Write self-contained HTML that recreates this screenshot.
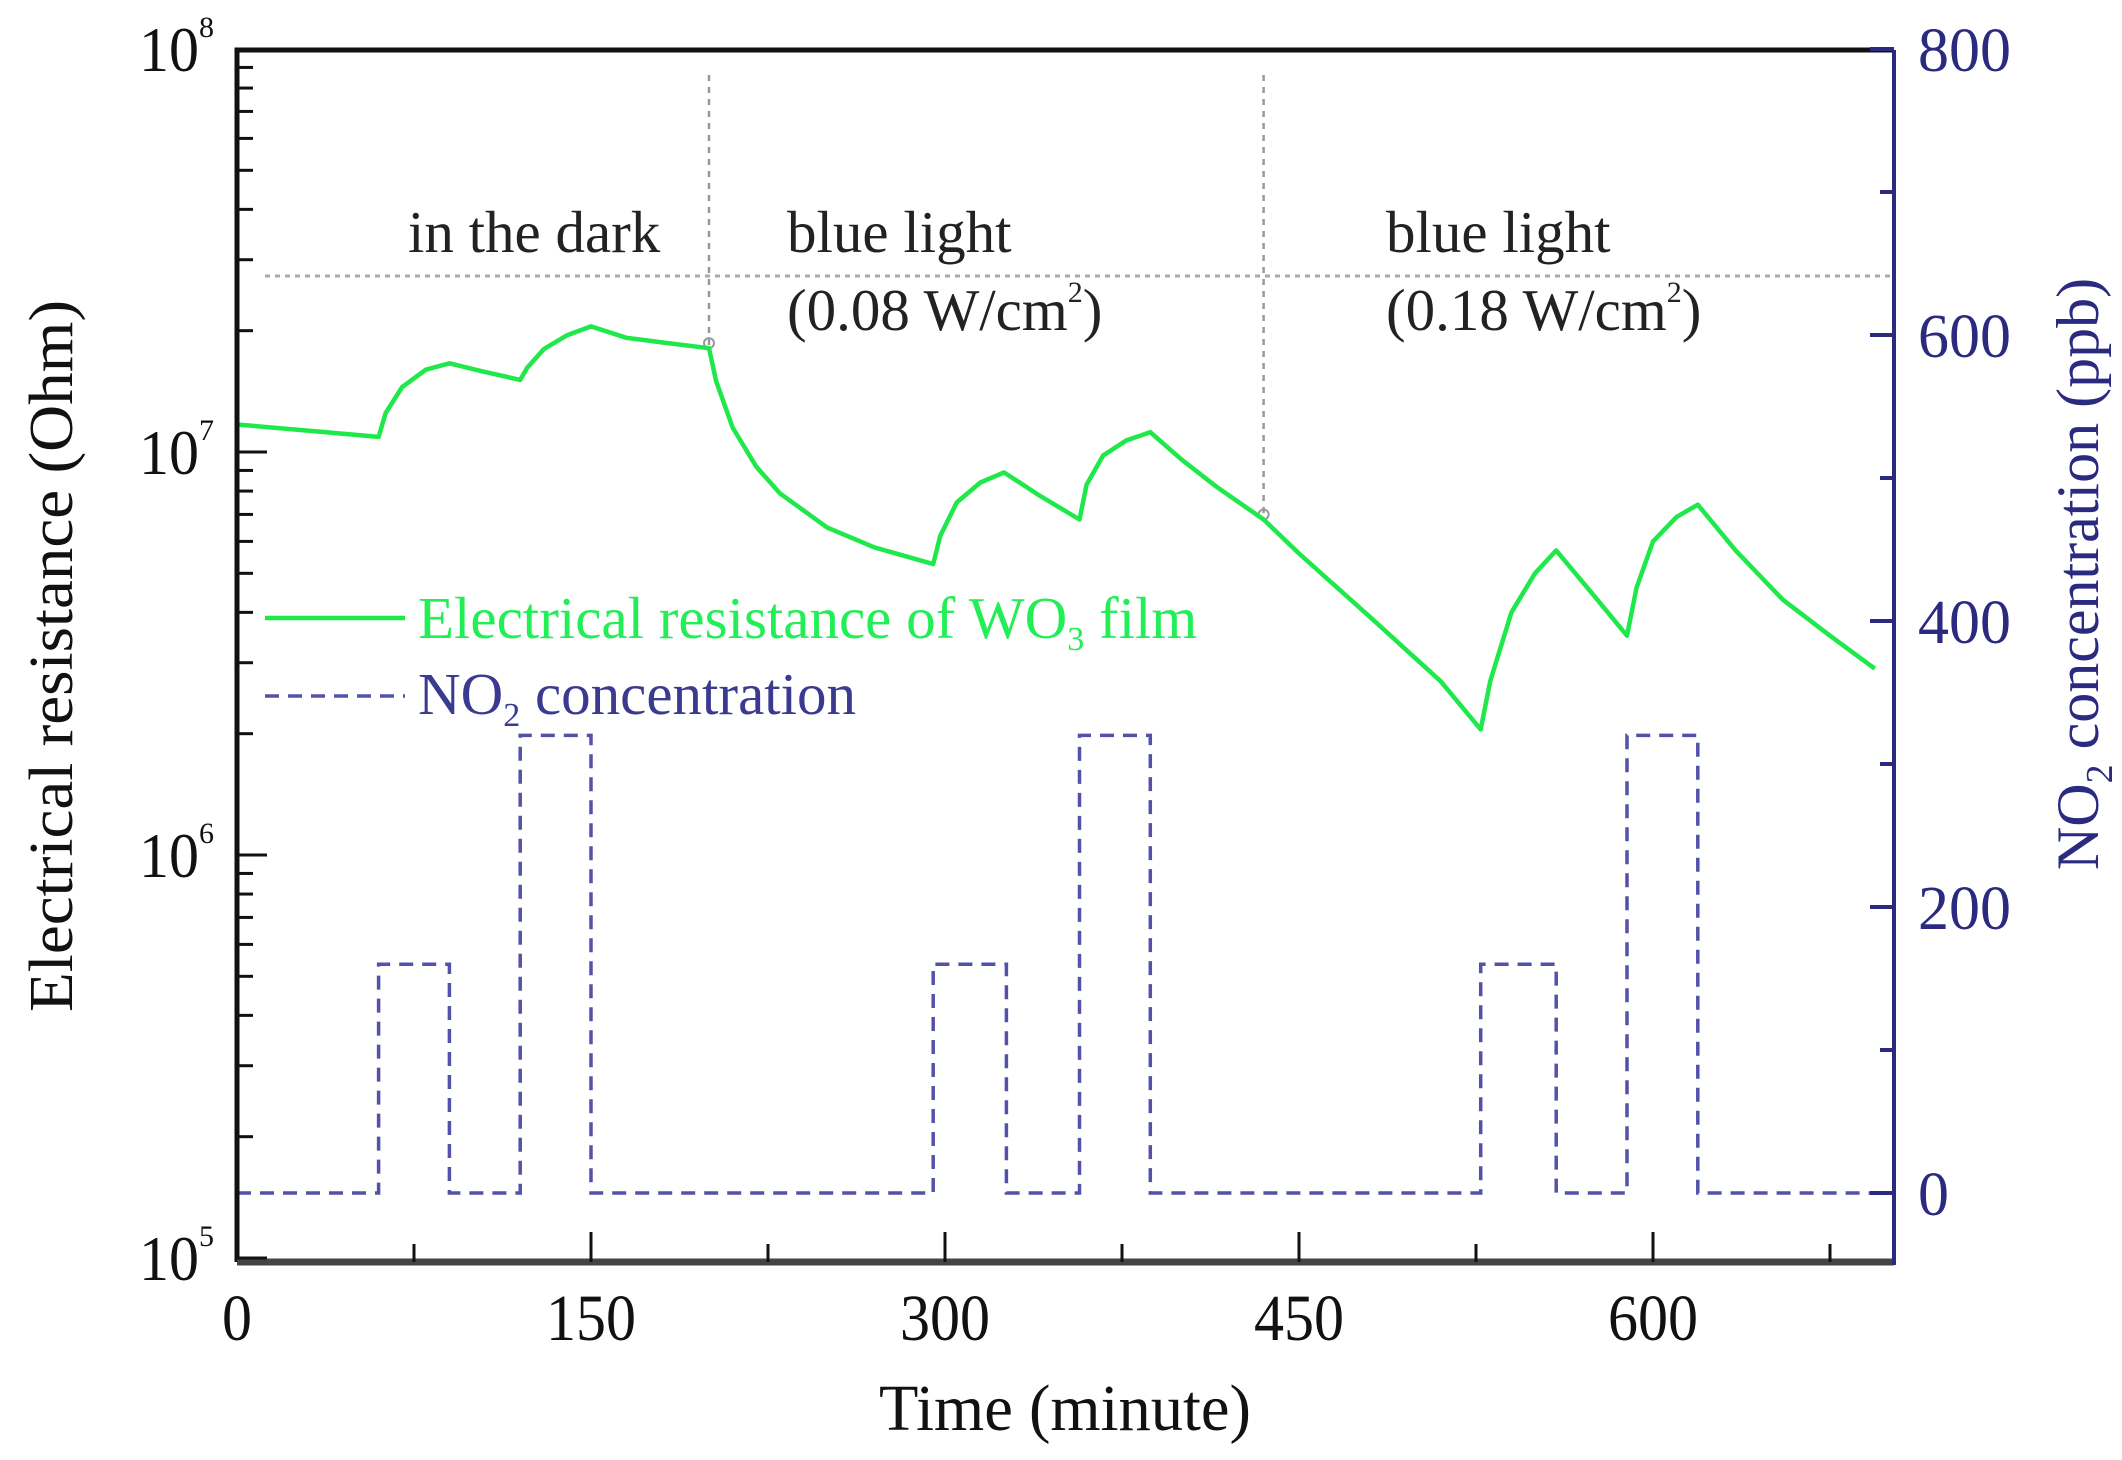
<!DOCTYPE html>
<html><head><meta charset="utf-8"><style>
html,body{margin:0;padding:0;background:#fff}
svg{display:block}
text{font-family:"Liberation Serif",serif}
</style></head><body>
<svg id="chart" width="2122" height="1460" viewBox="0 0 2122 1460" xmlns="http://www.w3.org/2000/svg">
<g id="plot"></g>
</svg>
<script>
const timeR = [0,30,60,63,70,80,90,105,120,123,130,140,150,165,180,200,203,210,220,230,250,270,295,298,305,315,325,340,357,360,367,377,387,400,415,435,450,480,510,527,531,540,550,559,575,589,593,600,610,619,635,655,675,694];
const resistance = [1.17e7,1.13e7,1.09e7,1.25e7,1.45e7,1.6e7,1.66e7,1.58e7,1.51e7,1.62e7,1.8e7,1.95e7,2.05e7,1.92e7,1.87e7,1.81e7,1.5e7,1.15e7,9.2e6,7.9e6,6.5e6,5.8e6,5.27e6,6.2e6,7.5e6,8.4e6,8.9e6,7.8e6,6.8e6,8.3e6,9.8e6,1.07e7,1.12e7,9.6e6,8.2e6,6.8e6,5.6e6,3.9e6,2.7e6,2.05e6,2.7e6,4.0e6,5.0e6,5.7e6,4.4e6,3.5e6,4.6e6,6.0e6,6.9e6,7.4e6,5.7e6,4.3e6,3.5e6,2.9e6];
const timeN = [0,60,60,90,90,120,120,150,150,295,295,326,326,357,357,387,387,527,527,559,559,589,589,619,619,694];
const no2 = [0,0,160,160,0,0,320,320,0,0,160,160,0,0,320,320,0,0,160,160,0,0,320,320,0,0];
const xTicks = [0,150,300,450,600];
const xTickLabels = ["0","150","300","450","600"];
const yRightTicks = [0,200,400,600,800];
const yRightLabels = ["0","200","400","600","800"];
const yLeftExp = [5,6,7,8];

const L=237,R=1894,T=50,B=1262;
const xS=t=>L+t*2.36;
const yL=v=>452-403*Math.log10(v/1e7);
const yRt=v=>1193-v*1.43;
const NS="http://www.w3.org/2000/svg";
const g=document.getElementById('plot');
function mk(tag,attrs,parent){const e=document.createElementNS(NS,tag);for(const k in attrs)e.setAttribute(k,attrs[k]);(parent||g).appendChild(e);return e;}
function txt(s,attrs){const e=mk('text',attrs);e.textContent=s;return e;}

let e=mk('line',{x1:265,y1:276,x2:R,y2:276,stroke:'#aaa','stroke-width':3,'stroke-dasharray':'5 5'});


e=mk('line',{x1:xS(200),y1:75,x2:xS(200),y2:yL(1.81e7),stroke:'#999','stroke-width':2.5,'stroke-dasharray':'6 6'});


e=mk('line',{x1:xS(435),y1:75,x2:xS(435),y2:yL(6.8e6),stroke:'#999','stroke-width':2.5,'stroke-dasharray':'6 6'});


e=mk('circle',{cx:xS(200),cy:yL(1.81e7)-5,r:5,fill:'none',stroke:'#999','stroke-width':2});


e=mk('circle',{cx:xS(435),cy:yL(6.8e6)-5,r:5,fill:'none',stroke:'#999','stroke-width':2});



let d=timeN.map((t,i)=>(i?'L':'M')+xS(t).toFixed(1)+' '+yRt(no2[i]).toFixed(1)).join(' ');
e=mk('path',{d:d,fill:'none',stroke:'#5252a8','stroke-width':3.5,'stroke-dasharray':'14 9'});


d=timeR.map((t,i)=>(i?'L':'M')+xS(t).toFixed(1)+' '+yL(resistance[i]).toFixed(1)).join(' ');
e=mk('path',{d:d,fill:'none',stroke:'#1ee84a','stroke-width':4.5,'stroke-linejoin':'round'});



e=mk('path',{d:`M${L} ${B} L${L} ${T} L${R} ${T}`,fill:'none',stroke:'#111','stroke-width':5});


e=mk('line',{x1:L,y1:B,x2:R,y2:B,stroke:'#444','stroke-width':7});


e=mk('line',{x1:R,y1:B+3,x2:R,y2:T,stroke:'#2a2a80','stroke-width':4});



for(let t=75;t<700;t+=75){const maj=t%150===0;
 e=mk('line',{x1:xS(t),y1:B,x2:xS(t),y2:B-(maj?30:18),stroke:'#111','stroke-width':3});
 
 }
xTicks.forEach((t,i)=>{e=txt(xTickLabels[i],{x:xS(t),y:1340,'font-size':66,'text-anchor':'middle',fill:'#111',textLength:xTickLabels[i].length*30,lengthAdjust:'spacingAndGlyphs'});
 
 });
e=txt('Time (minute)',{x:1065,y:1430,'font-size':66,'text-anchor':'middle',fill:'#111',textLength:372,lengthAdjust:'spacingAndGlyphs'});



for(let p=5;p<8;p++){for(let m=1;m<10;m++){const v=m*Math.pow(10,p);const y=yL(v);if(y<T||y>B)continue;
 e=mk('line',{x1:L,y1:y,x2:L+(m===1?30:16),y2:y,stroke:'#111','stroke-width':3});
 
 }}
yLeftExp.forEach(p=>{const y=yL(Math.pow(10,p));
 e=mk('text',{x:214,y:y+22,'font-size':64,'text-anchor':'end',fill:'#111'});
 
 
 e.innerHTML='<tspan textLength="60" lengthAdjust="spacingAndGlyphs">10</tspan><tspan font-size="30" dy="-34">'+p+'</tspan>';});
e=txt('Electrical resistance (Ohm)',{x:0,y:0,'font-size':62,'text-anchor':'middle',fill:'#111',transform:'translate(72 656) rotate(-90)',textLength:712,lengthAdjust:'spacingAndGlyphs'});



for(let v=0;v<=800;v+=100){const maj=v%200===0;
 e=mk('line',{x1:R,y1:yRt(v),x2:R-(maj?24:14),y2:yRt(v),stroke:'#2a2a80','stroke-width':4});
 
 }
yRightTicks.forEach((v,i)=>{e=txt(yRightLabels[i],{x:1918,y:yRt(v)+22,'font-size':62,fill:'#2a2a80',textLength:yRightLabels[i].length*31,lengthAdjust:'spacingAndGlyphs'});
 
 });
e=mk('text',{x:0,y:0,'font-size':60,'text-anchor':'middle',fill:'#2a2a80',transform:'translate(2098 574) rotate(-90)'});


e.innerHTML='NO<tspan font-size="38" dy="14">2</tspan><tspan dy="-14"> concentration (ppb)</tspan>';

function ann(s,x,y,name){const t=mk('text',{x:x,y:y,'font-size':59,fill:'#222'});t.innerHTML=s;
 
 }
ann('in the dark',408,252,'label-in-the-dark');
ann('blue light',787,252,'label-blue-light-1');
ann('(0.08 W/cm<tspan font-size="30" dy="-28">2</tspan><tspan dy="28">)</tspan>',787,330,'label-power-1');
ann('blue light',1386,252,'label-blue-light-2');
ann('(0.18 W/cm<tspan font-size="30" dy="-28">2</tspan><tspan dy="28">)</tspan>',1386,330,'label-power-2');

e=mk('line',{x1:265,y1:618,x2:405,y2:618,stroke:'#1ee84a','stroke-width':4.5});


e=mk('text',{x:418,y:638,'font-size':59,fill:'#22ee55'});


e.innerHTML='Electrical resistance of WO<tspan font-size="34" dy="12">3</tspan><tspan dy="-12"> film</tspan>';
e=mk('line',{x1:265,y1:696,x2:405,y2:696,stroke:'#5252a8','stroke-width':3.5,'stroke-dasharray':'14 9'});


e=mk('text',{x:418,y:714,'font-size':59,fill:'#3a3a90'});


e.innerHTML='NO<tspan font-size="34" dy="12">2</tspan><tspan dy="-12"> concentration</tspan>';
</script>
</body></html>
